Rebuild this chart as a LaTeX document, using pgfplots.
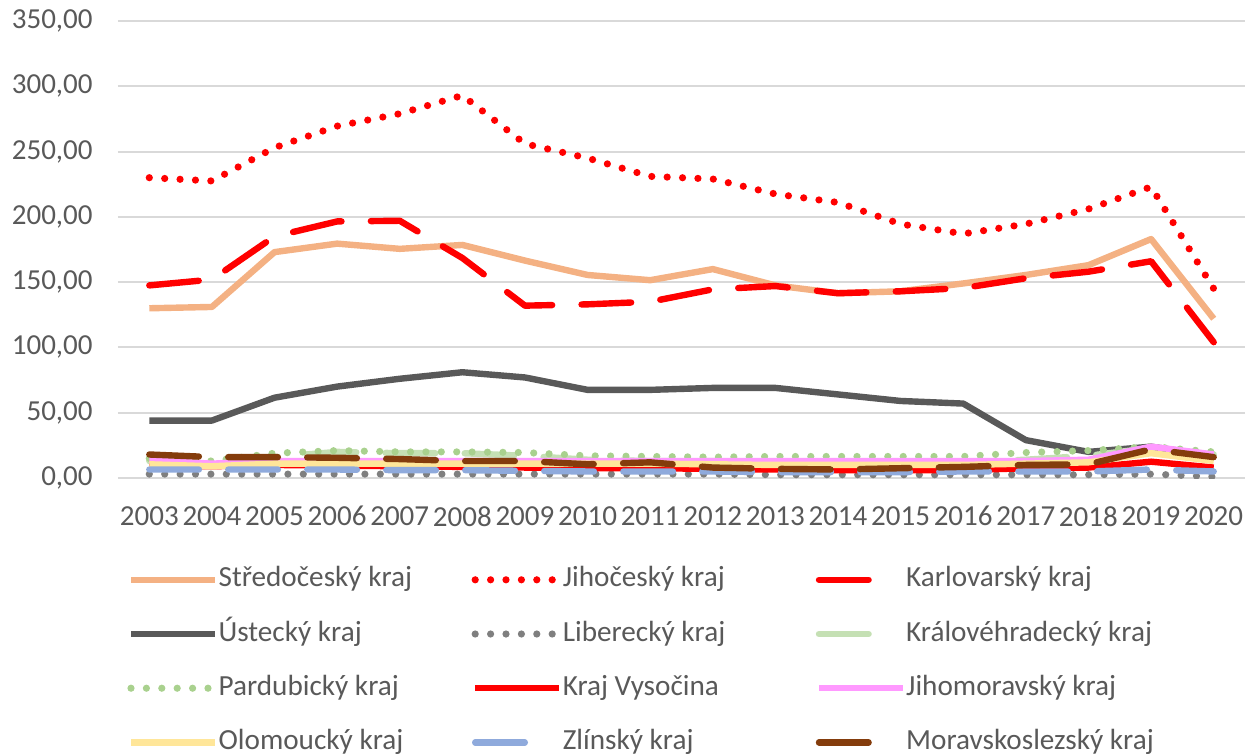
\documentclass[border=0pt]{standalone}
\usepackage{pgfplots}
\pgfplotsset{compat=1.18}
\usepackage{pgfplotstable}
\usepackage{fontspec}
\setmainfont{Carlito}
\definecolor{cStr}{HTML}{F4B183}
\definecolor{cRed}{HTML}{FF0000}
\definecolor{cUst}{HTML}{595959}
\definecolor{cLib}{HTML}{7F7F7F}
\definecolor{cKra}{HTML}{C5E0B4}
\definecolor{cPar}{HTML}{A9D18E}
\definecolor{cJmo}{HTML}{FF99FF}
\definecolor{cOlo}{HTML}{FFE699}
\definecolor{cZli}{HTML}{8FAADC}
\definecolor{cMor}{HTML}{843C0C}
\definecolor{cTxt}{HTML}{595959}
\definecolor{cGrid}{HTML}{D9D9D9}
\pgfplotstableread{
year Str Jih Kar Ust Lib Kra Par Vys Jmo Olo Zli Mor
2003 130 230 147.5 44 3 13 15 10 13.5 10.5 6.5 18
2004 131 227.5 152 44 3 11 13 9 11 9 6.5 16
2005 173 253 185 61.5 3 16 19 10 13 11 6.5 16
2006 179.5 269.5 196.5 70 3 20 21 9.5 13 11 6.5 15.5
2007 175.5 279 197 76 3 19 20 9 13 11 6 14.5
2008 178.5 293 168.5 81 3 19 20 8.5 13 11 6 13
2009 166.5 256 132 77 3 17 19.5 8 13 11 5.5 13
2010 155.5 245 133 67.5 3 14 17 7.5 13 11 5 10.5
2011 151.5 231 135 67.5 3 13 16.5 7.5 13 11 5 12
2012 160 229 144.5 69 3 13 16 7 13 10.5 5 8
2013 147.5 217.5 147 69 2.5 12 16.5 6.5 13 10 4.5 7
2014 141.5 211 141.5 64 2.5 12 16.5 6 13 10 4.5 6.5
2015 143 194.5 143 59 2.5 12 16.5 6 13 10 4.5 7.5
2016 149 187 145.5 57 2.5 12 16.5 6 13 10 5 8.5
2017 155.5 194.5 153 29 2.5 14 19.5 7.5 13 11 5 10
2018 163 206 158 20 2.5 17 21 8 14 12 5 10.5
2019 183 223 166 24 3 23 24 12.5 24 19 6.5 22
2020 122 145 104 17 1 18 20 8 18 13 5 16
}\data
\newcommand{\lb}[1]{\makebox[126.5pt][l]{#1}}
\pgfplotsset{
  ldash/.style={dash pattern=on 24.8pt off 14.7pt, line cap=round,
    legend image code/.code={\draw[##1] (0pt,0pt) -- (28pt,0pt);}},
  ldot/.style={dash pattern=on 0pt off 7.7pt, line cap=round, line width=3.6pt},
}
\begin{document}
\begin{tikzpicture}
\begin{axis}[
  name=ax,
  scale only axis,
  width=563.5pt, height=228.5pt,
  xmin=2002.5, xmax=2020.5,
  ymin=0, ymax=350,
  xtick={2003,...,2020},
  xticklabels={2003,2004,2005,2006,2007,2008,2009,2010,2011,2012,2013,2014,2015,2016,2017,2018,2019,2020},
  ytick={0,50,...,350},
  ymajorgrids,
  grid style={cGrid, line width=1pt},
  axis line style={draw=none},
  tick style={draw=none},
  major tick length=0pt,
  every tick label/.append style={font=\fontsize{14.5}{16}\selectfont, text=cTxt},
  yticklabel style={inner sep=0pt, xshift=-12.5pt, /pgf/number format/.cd, fixed, fixed zerofill, precision=2, use comma, assume math mode=true},
  xticklabel style={inner sep=0pt, yshift=-14pt},
  legend columns=3,
  legend style={at={(0,0)}, anchor=north west, xshift=4.5pt, yshift=-44.2pt,
    draw=none, fill=none, inner sep=0pt, row sep=14.1pt,
    column sep=0pt,
    font=\fontsize{14.6}{16}\selectfont, text=cTxt,
    nodes={inner sep=0pt, text height=10pt, text depth=3pt}},
  legend cell align=left,
  legend image code/.code={\draw[#1] (0pt,0pt) -- (42pt,0pt);},
  every axis plot/.append style={line width=3.2pt, line join=round},
]
\addplot[cStr] table[x=year,y=Str]{\data}; \addlegendentry{\lb{Středočeský kraj}}
\addplot[cRed, ldot] table[x=year,y=Jih]{\data}; \addlegendentry{\lb{Jihočeský kraj}}
\addplot[cRed, ldash] table[x=year,y=Kar]{\data}; \addlegendentry{\lb{Karlovarský kraj}}
\addplot[cUst] table[x=year,y=Ust]{\data}; \addlegendentry{\lb{Ústecký kraj}}
\addplot[cLib, ldot] table[x=year,y=Lib]{\data}; \addlegendentry{\lb{Liberecký kraj}}
\addplot[cKra, ldash] table[x=year,y=Kra]{\data}; \addlegendentry{\lb{Královéhradecký kraj}}
\addplot[cPar, ldot] table[x=year,y=Par]{\data}; \addlegendentry{\lb{Pardubický kraj}}
\addplot[cRed] table[x=year,y=Vys]{\data}; \addlegendentry{\lb{Kraj Vysočina}}
\addplot[cJmo] table[x=year,y=Jmo]{\data}; \addlegendentry{\lb{Jihomoravský kraj}}
\addplot[cOlo] table[x=year,y=Olo]{\data}; \addlegendentry{\lb{Olomoucký kraj}}
\addplot[cZli, ldash] table[x=year,y=Zli]{\data}; \addlegendentry{\lb{Zlínský kraj}}
\addplot[cMor, ldash] table[x=year,y=Mor]{\data}; \addlegendentry{\lb{Moravskoslezský kraj}}
\end{axis}
\pgfresetboundingbox
\path ([xshift=-59pt,yshift=-138pt]ax.south west) rectangle ([xshift=2.5pt,yshift=10.5pt]ax.north east);
\end{tikzpicture}
\end{document}
